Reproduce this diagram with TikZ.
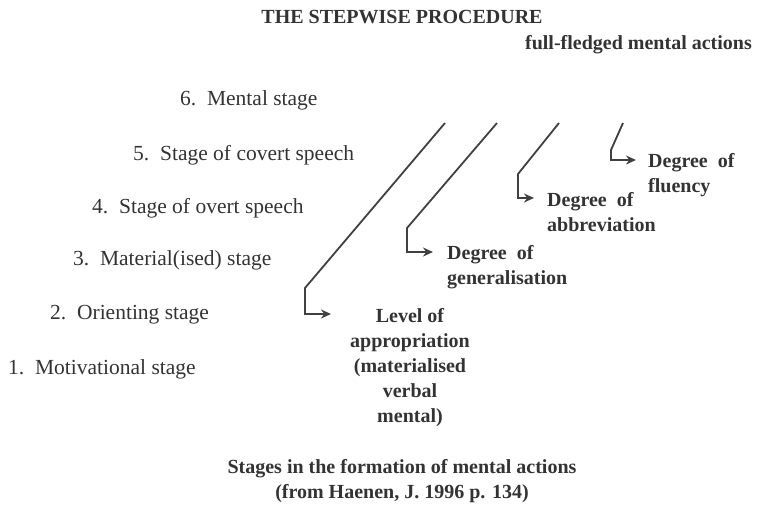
\documentclass[tikz,border=0pt]{standalone}
\usepackage{fontspec}
\setmainfont{Liberation Serif}
\usetikzlibrary{arrows.meta}

\begin{document}
\begin{tikzpicture}[x=1pt,y=-1pt,font=\fontsize{21.5}{25}\selectfont,
  every node/.style={inner sep=0pt,text=black!80},
  stagelbl/.style={anchor=west},
  bold/.style={font=\fontsize{20}{25}\selectfont\bfseries},
  degree/.style={bold,anchor=north west,align=left},
  conn/.style={black!75,line width=1.8pt,-{Stealth[length=10pt,width=9pt]}}]
\useasboundingbox (0,0) rectangle (761,517);
% headings
\node[bold] (title) at (402,17) {THE STEPWISE PROCEDURE};
\node[bold,anchor=east] (full) at (752,45) {full-fledged mental actions};
% the six stages
\foreach \n/\x/\y/\t in {6/180/100/Mental stage,5/133/155/Stage of covert speech,4/92/208/Stage of overt speech,
  3/73/260/Material(ised) stage,2/50/315/Orienting stage,1/8/369/Motivational stage}{\node[stagelbl] (s\n) at (\x,\y) {\n.\hspace{0.5em}\t};}
% what is formed
\node[bold,align=center,anchor=north] (lvl) at (410,308) {Level of\\appropriation\\(materialised\\verbal\\mental)};
\node[degree] (gen) at (447,245) {Degree\hspace{0.5em}of\\generalisation};
\node[degree] (abbr) at (547,192) {Degree\hspace{0.5em}of\\abbreviation};
\node[degree] (flu) at (648,153) {Degree\hspace{0.5em}of\\fluency};
% connectors
\foreach \i/\tx/\bx/\by/\ex/\ey in {1/445/305/288/331/314,2/497/407/228/433/252,3/559/518/174/534/198,4/623/611/150/636/160}{
  \coordinate (top\i) at (\tx,123); \coordinate (bend\i) at (\bx,\by); \coordinate (tip\i) at (\ex,\ey);
  \draw[conn] (top\i) -- (bend\i) |- (tip\i);}
% caption
\node[bold,align=center,anchor=north] (cap) at (402,459) {Stages in the formation of mental actions\\(from Haenen, J. 1996 p. 134)};
\end{tikzpicture}
\end{document}
